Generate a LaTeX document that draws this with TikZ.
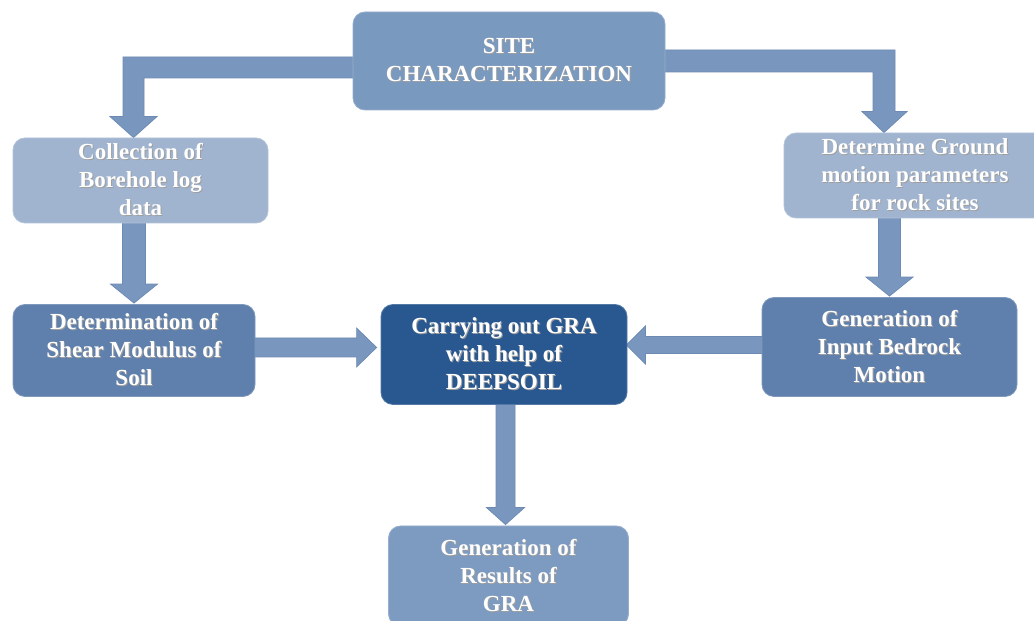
\documentclass[tikz,border=0pt]{standalone}
\usepackage{fontspec}
\setmainfont{Liberation Serif}
\usetikzlibrary{calc,backgrounds}
\definecolor{cSite}{RGB}{122,153,191}
\definecolor{cLight}{RGB}{160,180,208}
\definecolor{cMid}{RGB}{95,128,172}
\definecolor{cDark}{RGB}{41,88,145}
\definecolor{cRes}{RGB}{125,155,192}
\definecolor{cArr}{RGB}{121,151,190}
\definecolor{cArrB}{RGB}{108,138,180}
\newcommand\shtx[1]{\makebox[0pt][l]{\raisebox{-1pt}{\hspace{1pt}\textcolor{black!38}{#1}}}#1}
\tikzset{
  box/.style={rounded corners=12pt, align=center, text=white,
    font=\fontsize{23}{28}\selectfont\bfseries, inner sep=0pt, line width=0.8pt},
  arr/.style={fill=cArr, draw=cArrB, line width=0.7pt, line join=miter}
}
\begin{document}
\begin{tikzpicture}[x=1pt,y=1pt]
\useasboundingbox (0,0) rectangle (1034,621);
\clip (0,0) rectangle (1034,621);
% nodes
\node[box, fill=cSite, draw=cSite!80!white, minimum width=312pt, minimum height=98pt] (site) at (509,560) {\shtx{SITE}\\\shtx{CHARACTERIZATION}};
\node[box, fill=cLight, draw=cLight!80!white, minimum width=255pt, minimum height=85pt] (coll) at (140.5,440.5) {\shtx{Collection of}\\\shtx{Borehole log}\\\shtx{data}};
\node[box, fill=cLight, draw=cLight!80!white, minimum width=262pt, minimum height=85pt] (ground) at (915,445.5) {\shtx{Determine Ground}\\\shtx{motion parameters}\\\shtx{for rock sites}};
\node[box, fill=cMid, draw=cMid!80!white, minimum width=242pt, minimum height=92pt] (detm) at (134,270.5) {\shtx{Determination of}\\\shtx{Shear Modulus of}\\\shtx{Soil}};
\node[box, fill=cDark, draw=cDark!80!white, minimum width=246pt, minimum height=100pt] (carry) at (504,266.5) {\shtx{Carrying out GRA}\\\shtx{with help of}\\\shtx{DEEPSOIL}};
\node[box, fill=cMid, draw=cMid!80!white, minimum width=255pt, minimum height=99pt] (input) at (889.5,274) {\shtx{Generation of}\\\shtx{Input Bedrock}\\\shtx{Motion}};
\node[box, fill=cRes, draw=cRes!80!white, minimum width=240pt, minimum height=100pt] (result) at (508.5,45) {\shtx{Generation of}\\\shtx{Results of}\\\shtx{GRA}};
\begin{pgfonlayer}{background}
\fill[white] (0,0) rectangle (1034,621);
% site -> collection
\filldraw[arr] let \p1=(site.west), \p2=(coll.north) in
  ({\x1+4pt},{\y1+4pt}) -- ({\x2-17.5pt},{\y1+4pt}) -- ({\x2-17.5pt},{\y2+21pt})
  -- ({\x2-30.5pt},{\y2+21pt}) -- ({\x2-7pt},\y2) -- ({\x2+16.5pt},{\y2+21pt})
  -- ({\x2+3.5pt},{\y2+21pt}) -- ({\x2+3.5pt},{\y1-17pt}) -- ({\x1+4pt},{\y1-17pt}) -- cycle;
% site -> ground
\filldraw[arr] let \p1=(site.east), \p2=(ground.north) in
  ({\x1-4pt},{\y1+11pt}) -- ({\x2-20pt},{\y1+11pt}) -- ({\x2-20pt},{\y2+21pt})
  -- ({\x2-8pt},{\y2+21pt}) -- ({\x2-31pt},\y2) -- ({\x2-53pt},{\y2+21pt})
  -- ({\x2-42pt},{\y2+21pt}) -- ({\x2-42pt},{\y1-11pt}) -- ({\x1-4pt},{\y1-11pt}) -- cycle;
% collection -> determination
\filldraw[arr] let \p1=(coll.south), \p2=(detm.north) in
  ({\x2-11.5pt},{\y1+4pt}) -- ({\x2-11.5pt},{\y2+20pt}) -- ({\x2-23.5pt},{\y2+20pt})
  -- (\x2,{\y2+1pt}) -- ({\x2+23.5pt},{\y2+20pt}) -- ({\x2+11.5pt},{\y2+20pt})
  -- ({\x2+11.5pt},{\y1+4pt}) -- cycle;
% ground -> input
\filldraw[arr] let \p1=(ground.south), \p2=(input.north) in
  ({\x2-11pt},{\y1+4pt}) -- ({\x2-11pt},{\y2+20pt}) -- ({\x2-23.5pt},{\y2+20pt})
  -- (\x2,{\y2+1pt}) -- ({\x2+23.5pt},{\y2+20pt}) -- ({\x2+11pt},{\y2+20pt})
  -- ({\x2+11pt},{\y1+4pt}) -- cycle;
% determination -> carrying
\filldraw[arr] let \p1=(detm.east), \p2=(carry.west) in
  ({\x1-4pt},{\y1+12.5pt}) -- ({\x2-24pt},{\y1+12.5pt}) -- ({\x2-24pt},{\y1+22.5pt})
  -- ({\x2-4pt},{\y1+3pt}) -- ({\x2-24pt},{\y1-16.5pt}) -- ({\x2-24pt},{\y1-6.5pt})
  -- ({\x1-4pt},{\y1-6.5pt}) -- cycle;
% input -> carrying
\filldraw[arr] let \p1=(input.west), \p2=(carry.east) in
  ({\x1+4pt},{\y1+10.5pt}) -- ({\x2+18pt},{\y1+10.5pt}) -- ({\x2+18pt},{\y1+21pt})
  -- ({\x2-1pt},{\y1+2pt}) -- ({\x2+18pt},{\y1-17pt}) -- ({\x2+18pt},{\y1-6.5pt})
  -- ({\x1+4pt},{\y1-6.5pt}) -- cycle;
% carrying -> result
\filldraw[arr] let \p1=(carry.south), \p2=(result.north) in
  ({\x1-8pt},{\y1+4pt}) -- ({\x1-8pt},{\y2+18pt}) -- ({\x1-17.5pt},{\y2+18pt})
  -- ({\x1+1.5pt},{\y2+1pt}) -- ({\x1+20.5pt},{\y2+18pt}) -- ({\x1+11pt},{\y2+18pt})
  -- ({\x1+11pt},{\y1+4pt}) -- cycle;
\end{pgfonlayer}
\end{tikzpicture}
\end{document}
